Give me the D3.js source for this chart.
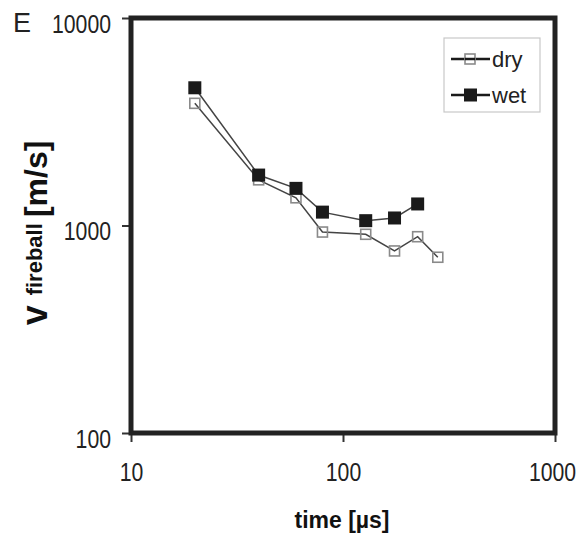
<!DOCTYPE html>
<html>
<head>
<meta charset="utf-8">
<script src="https://cdn.jsdelivr.net/npm/d3@7"></script>
<style>
  body { margin: 0; background: #fff; }
  svg { display: block; font-family: "Liberation Sans", Arial, sans-serif; }
</style>
</head>
<body>
<svg id="chart" width="583" height="537"></svg>
<script>
// values (time in µs, speed in m/s)
var timeDry = [20, 40, 60, 80, 128, 175, 225, 280];
var speedDry = [3880, 1660, 1360, 930, 907, 754, 883, 703];
var timeWet = [20, 40, 60, 80, 128, 175, 225];
var speedWet = [4610, 1750, 1510, 1160, 1055, 1087, 1270];

var xTicks = [10, 100, 1000];
var yTicks = [100, 1000, 10000];
var legendNames = ["dry", "wet"];

var svg = d3.select("#chart");

// plot box edges (note: "top" is a reserved window property, so don't use it)
var plotLeft = 131, plotRight = 555, plotTop = 18, plotBottom = 433;

var x = d3.scaleLog().domain([10, 1000]).range([plotLeft, plotRight]);
var y = d3.scaleLog().domain([100, 10000]).range([plotBottom, plotTop]);

// axes
var xAxis = svg.append("g")
  .attr("transform", "translate(0," + plotBottom + ")")
  .call(d3.axisBottom(x).tickValues(xTicks).tickSize(9).tickPadding(21).tickFormat(d3.format("d")));
var yAxis = svg.append("g")
  .attr("transform", "translate(" + plotLeft + ",0)")
  .call(d3.axisLeft(y).tickValues(yTicks).tickSize(9).tickPadding(11).tickFormat(d3.format("d")));

// tick labels in the figure are tall and narrow -> squeeze them with textLength
[xAxis, yAxis].forEach(function(g){
  g.select(".domain").remove();
  g.selectAll(".tick line").attr("stroke", "#333").attr("stroke-width", 2);
  g.selectAll(".tick text")
    .attr("fill", "#222")
    .style("font-size", "25px")
    .style("font-family", "'Liberation Sans', Arial, sans-serif")
    .attr("lengthAdjust", "spacingAndGlyphs")
    .attr("textLength", function(d){ return String(d).length * 11.8; });
});
yAxis.selectAll(".tick text").attr("dy", "0.56em");
// keep the last x label inside the page
xAxis.selectAll(".tick text").filter(function(d){ return d == 1000; }).attr("dx", -3);

// plot frame
svg.append("rect")
  .attr("x", plotLeft).attr("y", plotTop)
  .attr("width", plotRight - plotLeft).attr("height", plotBottom - plotTop)
  .attr("fill", "none").attr("stroke", "#222").attr("stroke-width", 5);

var line = d3.line()
  .x(function(d){ return x(d[0]); })
  .y(function(d){ return y(d[1]); });

var dry = d3.zip(timeDry, speedDry);
var wet = d3.zip(timeWet, speedWet);

// dry series: open squares
svg.append("path").datum(dry)
  .attr("d", line).attr("fill", "none").attr("stroke", "#444").attr("stroke-width", 1.5);
svg.selectAll(".dry").data(dry).enter().append("rect")
  .attr("class", "dry")
  .attr("x", function(d){ return x(d[0]) - 5; })
  .attr("y", function(d){ return y(d[1]) - 5; })
  .attr("width", 10).attr("height", 10)
  .attr("fill", "none").attr("stroke", "#8a8a8a").attr("stroke-width", 1.6);

// wet series: filled squares
svg.append("path").datum(wet)
  .attr("d", line).attr("fill", "none").attr("stroke", "#444").attr("stroke-width", 1.5);
svg.selectAll(".wet").data(wet).enter().append("rect")
  .attr("class", "wet")
  .attr("x", function(d){ return x(d[0]) - 6.5; })
  .attr("y", function(d){ return y(d[1]) - 6.5; })
  .attr("width", 13).attr("height", 13)
  .attr("fill", "#1a1a1a");

// legend
var legend = svg.append("g");
legend.append("rect")
  .attr("x", 444).attr("y", 38).attr("width", 96).attr("height", 74)
  .attr("fill", "#fff").attr("stroke", "#c8c8c8").attr("stroke-width", 1.2);

legendNames.forEach(function(name, i){
  var ly = 59 + i * 36;
  legend.append("line")
    .attr("x1", 451).attr("x2", 490).attr("y1", ly).attr("y2", ly)
    .attr("stroke", "#1a1a1a").attr("stroke-width", 2.5);
  if(i == 0){
    legend.append("rect")
      .attr("x", 465).attr("y", ly - 5).attr("width", 10).attr("height", 10)
      .attr("fill", "#fff").attr("stroke", "#8a8a8a").attr("stroke-width", 1.6);
    legend.append("line")
      .attr("x1", 465).attr("x2", 475).attr("y1", ly).attr("y2", ly)
      .attr("stroke", "#1a1a1a").attr("stroke-width", 2.5);
  }
  else{
    legend.append("rect")
      .attr("x", 464).attr("y", ly - 6.5).attr("width", 13).attr("height", 13)
      .attr("fill", "#1a1a1a");
  }
  legend.append("text")
    .attr("x", 492).attr("y", ly + 8)
    .attr("fill", "#222").style("font-size", "22px")
    .text(name);
});

// panel letter
svg.append("text")
  .attr("x", 13).attr("y", 32)
  .attr("fill", "#222").style("font-size", "27px")
  .text("E");

// axis titles
svg.append("text")
  .attr("x", 342).attr("y", 528)
  .attr("text-anchor", "middle")
  .attr("fill", "#111").style("font-size", "23px").style("font-weight", "bold")
  .text("time [µs]");

var yTitle = svg.append("text")
  .attr("transform", "translate(47,233) rotate(-90)")
  .attr("text-anchor", "middle")
  .attr("fill", "#111").style("font-weight", "bold");
yTitle.append("tspan").style("font-size", "36px").text("v ");
yTitle.append("tspan").style("font-size", "22px").attr("dy", -5).text("fireball ");
yTitle.append("tspan").style("font-size", "32px").attr("dy", 5).text("[m/s]");
</script>
</body>
</html>
